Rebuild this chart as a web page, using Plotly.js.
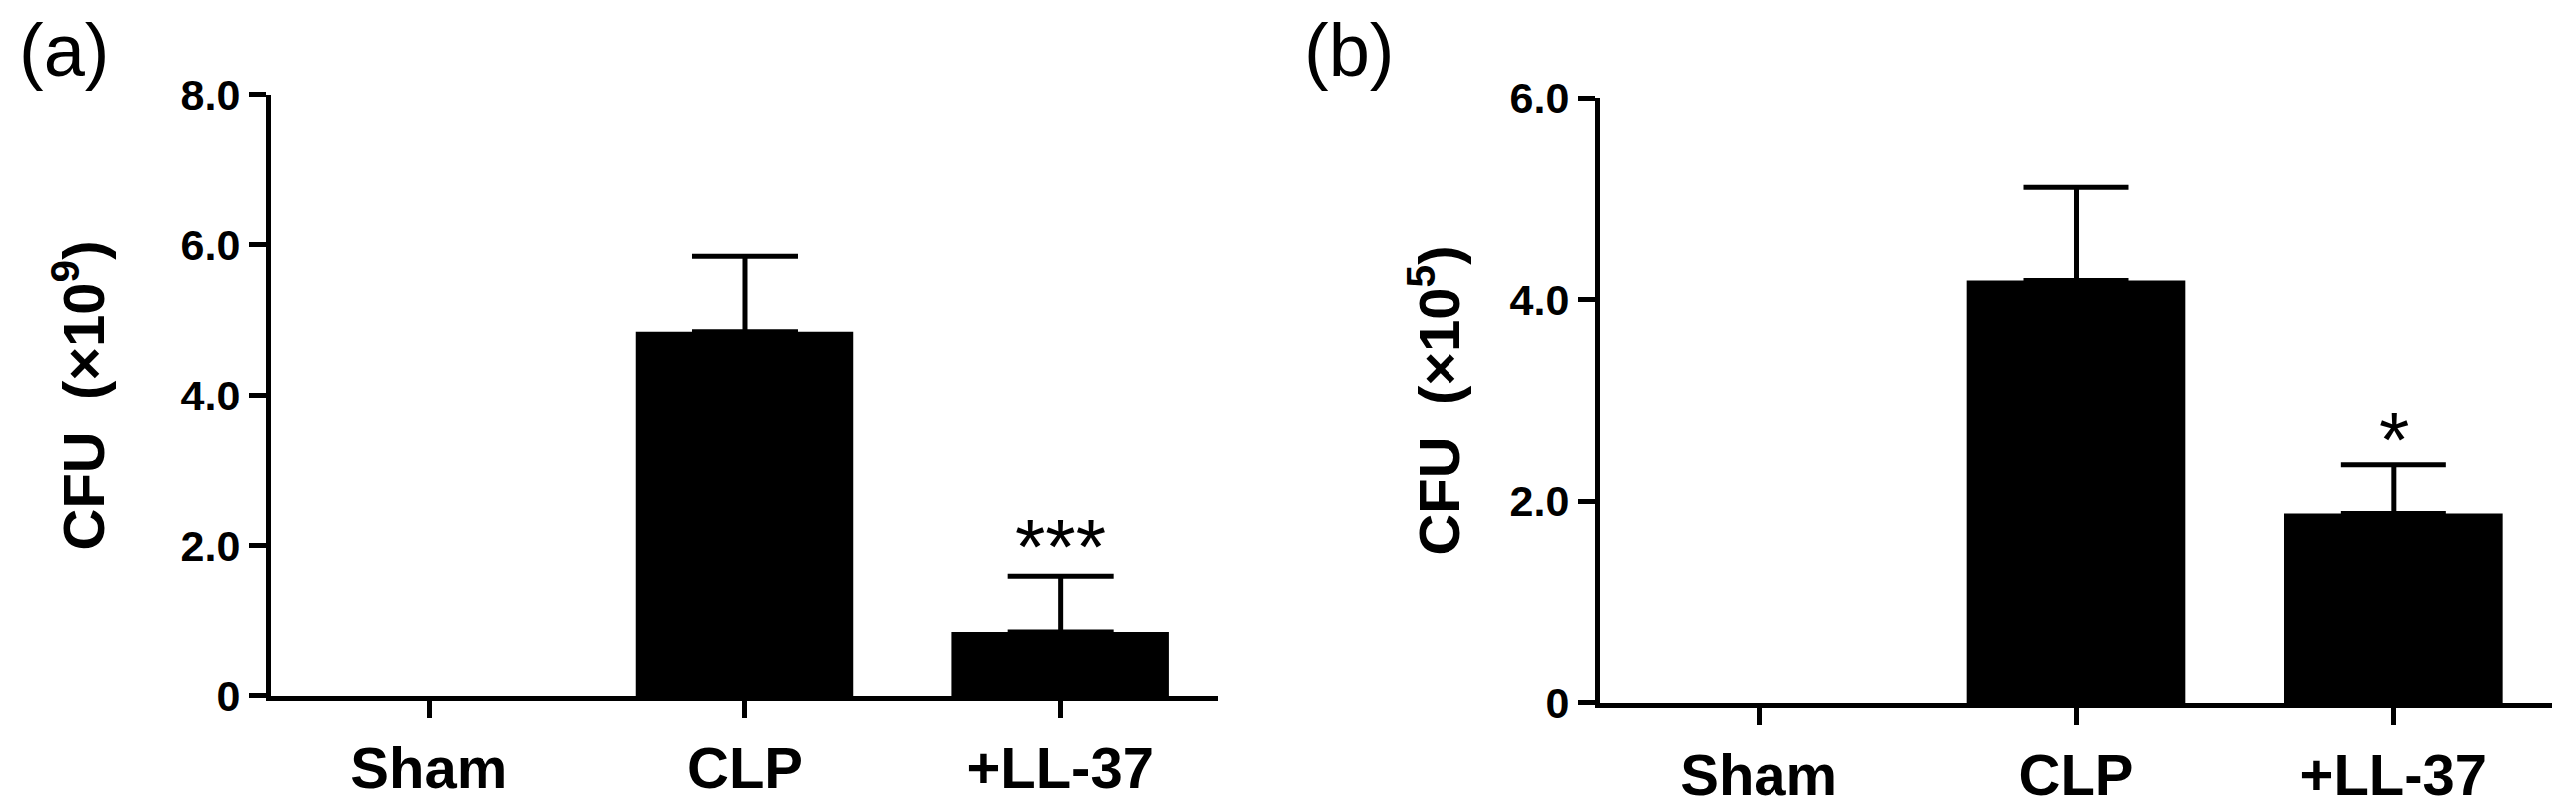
<!DOCTYPE html>
<html>
<head>
<meta charset="utf-8">
<script src="https://cdn.plot.ly/plotly-3.0.1.min.js"></script>
<style>
  html, body { margin: 0; padding: 0; background: #fff; }
  #plot { width: 2584px; height: 810px; }
</style>
</head>
<body>
<div id="plot"></div>
<script>
// groups on the x axis (same for both panels)
const groups = ["Sham", "CLP", "+LL-37"];

// panel (a): CFU x10^9
const meanA = [0, 4.85, 0.86];
const errA = [null, 1.0, 0.74];
const tickValsA = [0, 2, 4, 6, 8];
const tickTextA = ["0", "2.0", "4.0", "6.0", "8.0"];

// panel (b): CFU x10^5
const meanB = [0, 4.19, 1.88];
const errB = [null, 0.92, 0.48];
const tickValsB = [0, 2, 4, 6];
const tickTextB = ["0", "2.0", "4.0", "6.0"];

// significance marks above the +LL-37 bars
const starsA = "***";
const starsB = "*";

const FONT = "Liberation Sans, Arial, Helvetica, sans-serif";
const ink = "#000";

function barTrace(y, xa, ya) {
  return {
    type: "bar",
    x: groups,
    y: y,
    xaxis: xa,
    yaxis: ya,
    width: 0.69,
    marker: { color: ink, line: { width: 0 } },
    showlegend: false,
    hoverinfo: "skip",
  };
}

// SEM whiskers (upper only), skipping groups without an error value
function errTrace(y, err, xa, ya) {
  const idx = err.map((e, i) => (e == null ? -1 : i)).filter((i) => i >= 0);
  return {
    type: "scatter",
    mode: "markers",
    x: idx.map((i) => groups[i]),
    y: idx.map((i) => y[i]),
    xaxis: xa,
    yaxis: ya,
    marker: { size: 0.1, color: ink, opacity: 0 },
    error_y: {
      type: "data",
      symmetric: false,
      array: idx.map((i) => err[i]),
      arrayminus: idx.map(() => 0),
      color: ink,
      thickness: 5,
      width: 53,
    },
    showlegend: false,
    hoverinfo: "skip",
  };
}

const traces = [
  barTrace(meanA, "x", "y"),
  errTrace(meanA, errA, "x", "y"),
  barTrace(meanB, "x2", "y2"),
  errTrace(meanB, errB, "x2", "y2"),
];

const xBase = {
  type: "category",
  range: [-0.5, 2.5],
  showline: true,
  linewidth: 5,
  linecolor: ink,
  ticks: "outside",
  ticklen: 17,
  tickwidth: 5,
  tickcolor: ink,
  showgrid: false,
  zeroline: false,
  fixedrange: true,
  tickfont: { family: FONT, size: 58, color: ink, weight: "bold" },
};

function yAxis(domain, anchor, range, vals, text, title, standoff) {
  return {
    domain: domain,
    anchor: anchor,
    range: range,
    tickmode: "array",
    tickvals: vals,
    ticktext: text,
    showline: true,
    linewidth: 5,
    linecolor: ink,
    ticks: "outside",
    ticklen: 17,
    tickwidth: 5,
    tickcolor: ink,
    showgrid: false,
    zeroline: false,
    fixedrange: true,
    tickfont: { family: FONT, size: 43, color: ink, weight: "bold" },
    title: {
      text: title,
      standoff: standoff,
      font: { family: FONT, size: 58, color: ink, weight: "bold" },
    },
  };
}

const layout = {
  width: 2584,
  height: 810,
  margin: { l: 0, r: 0, t: 0, b: 0 },
  paper_bgcolor: "#fff",
  plot_bgcolor: "#fff",
  xaxis: Object.assign({}, xBase, { domain: [0.10526, 0.47291], anchor: "y" }),
  yaxis: yAxis([0.13704, 0.88272], "x", [0, 8], tickValsA, tickTextA,
    "CFU  (×10<sup>9</sup>)", 60),
  xaxis2: Object.assign({}, xBase, { domain: [0.62113, 0.99071], anchor: "y2" }),
  yaxis2: yAxis([0.1284, 0.87901], "x2", [0, 6], tickValsB, tickTextB,
    "CFU  (×10<sup>5</sup>)", 33),
  annotations: [
    {
      xref: "x", yref: "y", x: groups[2], y: meanA[2] + errA[2],
      text: starsA, showarrow: false, yanchor: "middle", yshift: 29,
      font: { family: FONT, size: 78, color: ink },
    },
    {
      xref: "x2", yref: "y2", x: groups[2], y: meanB[2] + errB[2],
      text: starsB, showarrow: false, yanchor: "middle", yshift: 25,
      font: { family: FONT, size: 78, color: ink },
    },
    {
      xref: "paper", yref: "paper", x: 0.0066, y: 0.991,
      xanchor: "left", yanchor: "top", text: "(a)", showarrow: false,
      font: { family: FONT, size: 74, color: ink },
    },
    {
      xref: "paper", yref: "paper", x: 0.5054, y: 0.991,
      xanchor: "left", yanchor: "top", text: "(b)", showarrow: false,
      font: { family: FONT, size: 74, color: ink },
    },
  ],
};

Plotly.newPlot("plot", traces, layout, { staticPlot: true });
</script>
</body>
</html>
